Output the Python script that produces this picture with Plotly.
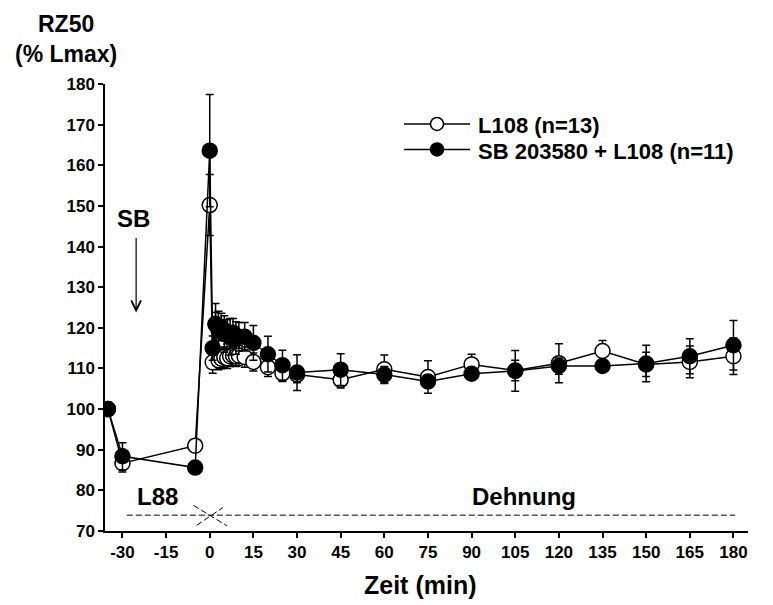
import plotly.graph_objects as go

# Zeitpunkte (min)
zeit = [-35, -30, -5, 0, 1, 2, 3, 4, 5, 6, 7, 8, 9, 10, 12, 15, 20, 25, 30,
        45, 60, 75, 90, 105, 120, 135, 150, 165, 180]

# L108 (n=13)
l108_mean = [100, 86.7, 91.0, 150.2, 111.5, 120.8, 112.0, 112.4, 112.8, 112.5, 113.0,
             113.2, 113.0, 113.2, 112.8, 111.6, 110.3, 108.8, 108.5,
             107.2, 109.8, 107.9, 111.0, 109.5, 111.3, 114.3, 111.0, 111.6, 113.0]
l108_sem = [0, 2.2, 1.0, 7.5, 2.7, 3.0, 2.3, 2.5, 2.5, 2.5, 2.5,
            2.5, 2.5, 2.5, 2.5, 2.2, 2.3, 2.0, 2.0,
            2.0, 3.5, 4.0, 2.5, 2.5, 4.8, 2.6, 3.0, 3.9, 4.5]

# SB 203580 + L108 (n=11)
sb_mean = [100, 88.4, 85.6, 163.6, 115.0, 121.0, 119.5, 120.2, 118.5, 119.0, 117.8,
           118.8, 117.5, 117.8, 117.8, 116.3, 113.5, 110.8, 109.0,
           109.7, 108.5, 106.8, 108.7, 109.4, 110.6, 110.6, 111.2, 113.0, 115.7]
sb_sem = [0, 3.3, 0.8, 13.8, 3.0, 5.0, 4.6, 3.4, 4.5, 3.0, 4.5,
          3.5, 4.0, 3.5, 3.5, 4.3, 4.4, 3.7, 4.4,
          3.9, 2.0, 1.5, 1.5, 5.0, 2.0, 1.5, 4.5, 4.3, 6.1]

series_names = ['L108 (n=13)', 'SB 203580 + L108 (n=11)']
series_fill = ['white', 'black']

x_ticks = [-30, -15, 0, 15, 30, 45, 60, 75, 90, 105, 120, 135, 150, 165, 180]
x_ticktext = ['-30', '-15', '0', '15', '30', '45', '60', '75', '90', '105', '120',
              '135', '150', '165', '180']
y_ticks = [70, 80, 90, 100, 110, 120, 130, 140, 150, 160, 170, 180]

FONT = "Liberation Sans, Arial, sans-serif"


def bold(size):
    return dict(family=FONT, size=size, weight='bold', color='black')


# helpers: reference pixel -> paper coords (plot area 105..748 x 83.5..530.7)
def px(x):
    return (x - 105) / 643.0


def py(y):
    return (530.7 - y) / 447.2


fig = go.Figure()

for mean, sem, name, fill in [(l108_mean, l108_sem, series_names[0], series_fill[0]),
                              (sb_mean, sb_sem, series_names[1], series_fill[1])]:
    fig.add_trace(go.Scatter(
        x=zeit, y=mean, mode='lines+markers', name=name, showlegend=False,
        line=dict(color='black', width=1.5),
        marker=dict(symbol='circle', size=15, color=fill, line=dict(color='black', width=1.5)),
        error_y=dict(type='data', array=sem, color='black', thickness=1.5, width=4),
    ))

# Legende (manuell)
for i, (name, fill) in enumerate(zip(series_names, series_fill)):
    yy = py(123.5 + i * 25.5)
    fig.add_shape(type='line', xref='paper', yref='paper', x0=px(404), x1=px(470), y0=yy, y1=yy,
                  line=dict(color='black', width=1.5))
    fig.add_shape(type='circle', xref='paper', yref='paper', xsizemode='pixel', ysizemode='pixel',
                  xanchor=px(437), yanchor=yy, x0=-6.5, x1=6.5, y0=-6.5, y1=6.5,
                  fillcolor=fill, line=dict(color='black', width=1.5))
    fig.add_annotation(xref='paper', yref='paper', x=px(476), y=py(125.5 + i * 25.5),
                       xanchor='left', yanchor='middle', text=name, showarrow=False,
                       font=bold(22))

# Stimulationsbalken (L88 / Dehnung)
fig.add_shape(type='line', x0=-28.5, x1=180.6, y0=73.9, y1=73.9,
              line=dict(color='black', width=1, dash='6px,3px'))
fig.add_shape(type='line', x0=-5.6, x1=5.9, y0=76.3, y1=71.3,
              line=dict(color='black', width=1, dash='6px,3px'))
fig.add_shape(type='line', x0=-4.5, x1=4.6, y0=71.4, y1=75.8,
              line=dict(color='black', width=1, dash='6px,3px'))

fig.add_annotation(x=-18.0, y=78.4, text='L88', showarrow=False, font=bold(24))
fig.add_annotation(x=108, y=78.4, text='Dehnung', showarrow=False, font=bold(24))

# SB-Pfeil
fig.add_annotation(x=-26.3, y=147.0, text='SB', showarrow=False, font=bold(24))
fig.add_annotation(x=-25.3, y=123.8, ax=-25.3, ay=142.5, xref='x', yref='y',
                   axref='x', ayref='y', text='', showarrow=True,
                   arrowhead=5, arrowsize=1.6, arrowwidth=1.2, arrowcolor='black')

# Achsentitel
fig.add_annotation(xref='paper', yref='paper', x=px(66), y=py(8), xanchor='center',
                   yanchor='top', text='RZ50<br>(% Lmax)', showarrow=False, font=bold(23))
fig.add_annotation(xref='paper', yref='paper', x=px(420), y=py(585), xanchor='center',
                   yanchor='middle', text='Zeit (min)', showarrow=False, font=bold(25))

fig.update_xaxes(
    range=[-36, 185], tickvals=x_ticks, ticktext=x_ticktext, ticks='outside', ticklen=5,
    tickwidth=1.5, tickcolor='black', showline=True, linecolor='black', linewidth=1.5,
    showgrid=False, zeroline=False, mirror=False, tickfont=bold(17),
)
fig.update_yaxes(
    range=[70, 180], tickvals=y_ticks, ticks='outside', ticklen=5, tickwidth=1.5,
    tickcolor='black', showline=True, linecolor='black', linewidth=1.5,
    showgrid=False, zeroline=False, mirror=False, tickfont=bold(17),
)

# Seite hat 8px Body-Rand -> Figur entsprechend kleiner und verschoben
fig.update_layout(
    width=765, height=597,
    margin=dict(l=97, r=25, t=75.5, b=74.3),
    paper_bgcolor='white', plot_bgcolor='white',
    showlegend=False,
)

fig.write_html("out.html")
